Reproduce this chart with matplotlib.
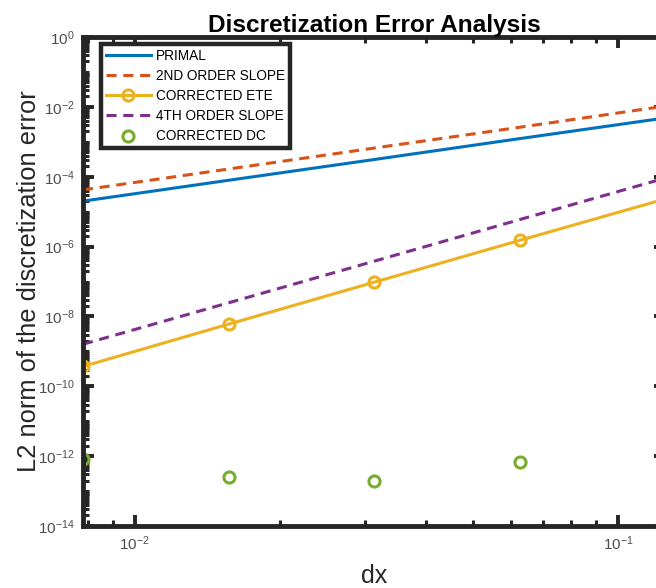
import numpy as np
import matplotlib
matplotlib.use("Agg")
import matplotlib.pyplot as plt
from matplotlib.ticker import LogLocator, LogFormatterMathtext, NullFormatter

plt.rcParams['font.family'] = ['Liberation Sans', 'DejaVu Sans']
plt.rcParams['mathtext.fontset'] = 'custom'
plt.rcParams['mathtext.rm'] = 'Liberation Sans'
plt.rcParams['mathtext.default'] = 'regular'

dx = [1/128, 1/64, 1/32, 1/16, 1/8]
primal = [2.0e-5, 7.9e-5, 3.1e-4, 1.23e-3, 4.8e-3]
slope2 = [4.2e-5, 1.66e-4, 6.6e-4, 2.6e-3, 1.05e-2]
corrected_ete = [3.7e-10, 6.0e-9, 9.5e-8, 1.5e-6, 2.3e-5]
slope4 = [1.6e-9, 2.45e-8, 3.8e-7, 5.9e-6, 9.1e-5]
dx_dc = [1/128, 1/64, 1/32, 1/16]
corrected_dc = [8.1e-13, 2.6e-13, 2.0e-13, 6.6e-13]

W, H = 656, 588
fig = plt.figure(figsize=(W/100, H/100), dpi=100)
L, R, T, B = 83, 665, 37, 526
ax = fig.add_axes([L/W, 1-B/H, (R-L)/W, (B-T)/H])

lw = 2.2
ax.plot(dx, primal, color='#0072BD', lw=lw, label='PRIMAL')
ax.plot(dx, slope2, color='#D95319', lw=lw, ls=(0, (3.3, 2.2)), label='2ND ORDER SLOPE')
ax.plot(dx, corrected_ete, color='#EDB120', lw=lw, marker='o', ms=8, mfc='none',
        mew=2.2, label='CORRECTED ETE')
ax.plot(dx, slope4, color='#7E2F8E', lw=lw, ls=(0, (3.3, 2.2)), label='4TH ORDER SLOPE')
ax.plot(dx_dc, corrected_dc, color='#77AC30', lw=0, marker='o', ms=8, mfc='none',
        mew=2.2, label='CORRECTED DC')

ax.set_xscale('log')
ax.set_yscale('log')
ax.set_xlim(1/128, 1/8)
ax.set_ylim(1e-14, 1e0)

ax.yaxis.set_major_locator(LogLocator(base=100.0, numticks=20))
ax.yaxis.set_major_formatter(LogFormatterMathtext(base=10))
ax.yaxis.set_minor_locator(LogLocator(base=10.0, subs=(1.0, 2, 3, 4, 5, 6, 7, 8, 9), numticks=40))
ax.yaxis.set_minor_formatter(NullFormatter())
ax.xaxis.set_minor_formatter(NullFormatter())

tc = '#262626'
for s in ax.spines.values():
    s.set_linewidth(3.5)
    s.set_color(tc)
ax.tick_params(which='both', direction='in', top=True, right=True, colors=tc,
               labelcolor='#4d4d4d', labelsize=11, pad=6)
ax.tick_params(which='major', length=8, width=2.8)
ax.tick_params(which='minor', length=4, width=2.2)

ax.set_title('Discretization Error Analysis', fontsize=17.6, fontweight='bold', pad=3)
ax.set_xlabel('dx', fontsize=18, color='#262626', labelpad=8)
ax.set_ylabel('L2 norm of the discretization error', fontsize=18.4, color='#262626', labelpad=-2)

leg = ax.legend(loc='upper left', bbox_to_anchor=(18/(R-L), 1-7/(B-T)), fontsize=9.8,
                frameon=True, fancybox=False, handlelength=3.3, handletextpad=0.37,
                borderpad=0.35, labelspacing=0.45, borderaxespad=0)
leg.get_frame().set_edgecolor(tc)
leg.get_frame().set_linewidth(3.2)
leg.get_frame().set_alpha(1)

fig.savefig('out.png', dpi=100)
